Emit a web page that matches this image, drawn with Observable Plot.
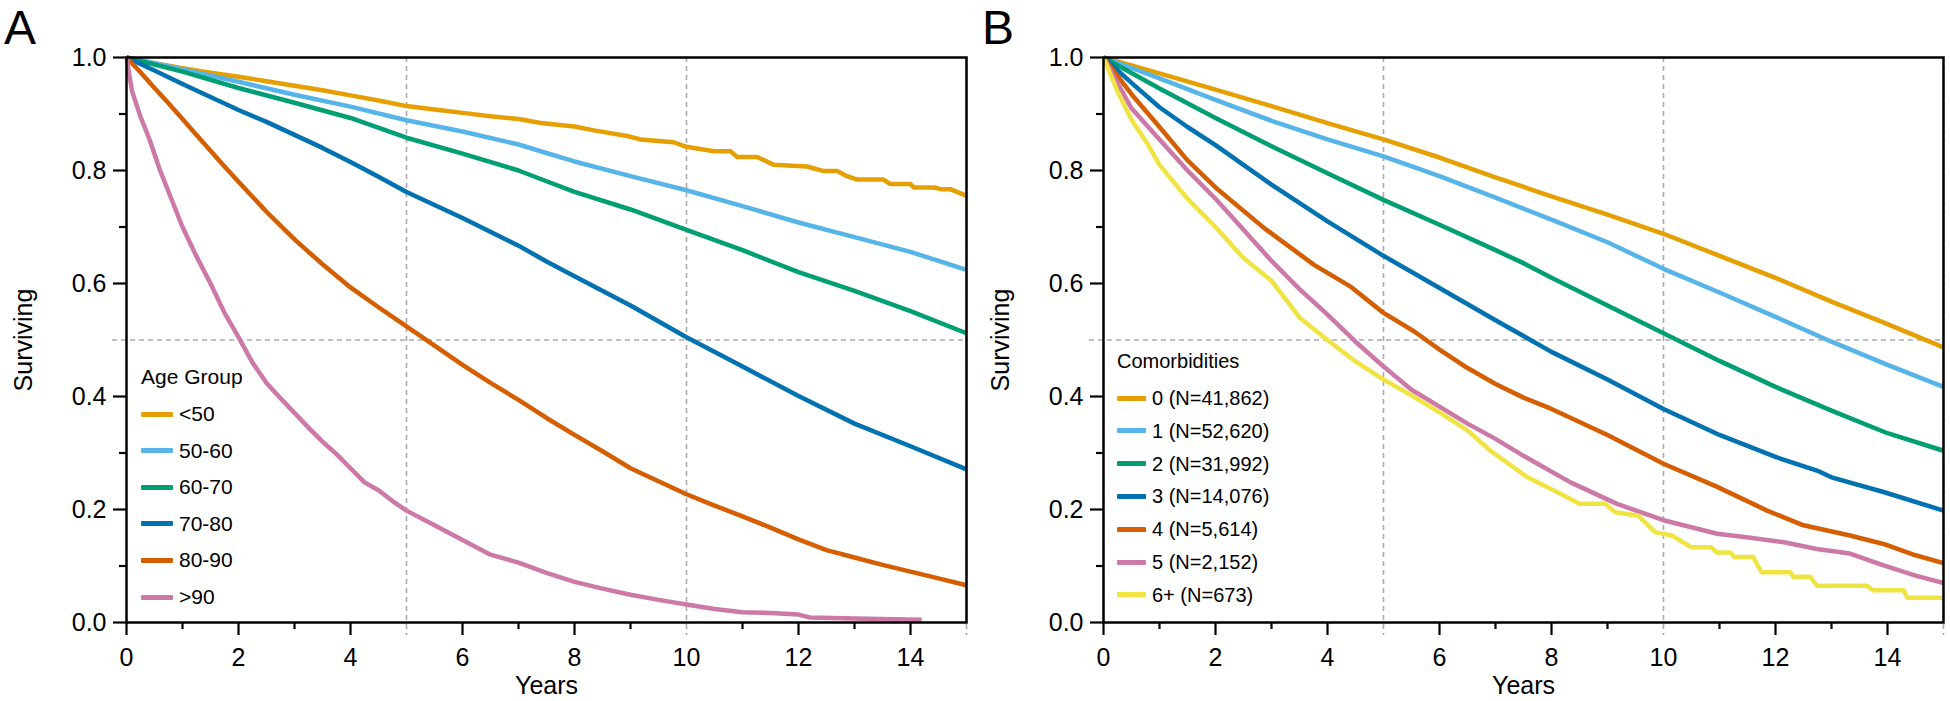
<!DOCTYPE html>
<html>
<head>
<meta charset="utf-8">
<script src="https://cdn.jsdelivr.net/npm/d3@7"></script>
<script src="https://cdn.jsdelivr.net/npm/@observablehq/plot@0.6"></script>
<style>
  html, body { margin: 0; padding: 0; background: #fff; }
  #wrap { position: relative; width: 1950px; height: 701px; font-family: "Liberation Sans", Arial, Helvetica, sans-serif; color: #000; }
  .panel { position: absolute; top: 0; }
  .letter { position: absolute; font-size: 48px; line-height: 48px; }
  .legend { position: absolute; }
  .legend .title { position: absolute; left: 0; white-space: nowrap; }
  .legend .row { position: absolute; left: 0; height: 20px; line-height: 20px; display: flex; align-items: center; white-space: nowrap; }
  .legend .sw { display: inline-block; height: 5px; border-radius: 1px; }
</style>
</head>
<body>
<div id="wrap"></div>
<script>
// ---------------- data ----------------
const colors = ["#E69F00", "#56B4E9", "#009E73", "#0072B2", "#D55E00", "#CC79A7", "#F0E442"];

// Panel A: survival by age group  [years, surviving]
const ageGroups = ["<50", "50-60", "60-70", "70-80", "80-90", ">90"];
const ageLt50 = [[0,1],[0.5,0.99],[1,0.981],[1.5,0.973],[2,0.966],[2.5,0.958],[3,0.95],[3.5,0.942],[4,0.933],[4.5,0.924],[5,0.914],[5.5,0.908],[6,0.902],[6.5,0.896],[7,0.891],[7.4,0.884],[8,0.878],[8.35,0.871],[8.94,0.861],[9.18,0.855],[9.77,0.85],[10,0.842],[10.49,0.834],[10.79,0.834],[10.9,0.824],[11.26,0.824],[11.56,0.81],[12.15,0.807],[12.45,0.799],[12.69,0.799],[12.87,0.79],[13.05,0.784],[13.52,0.784],[13.64,0.776],[14.0,0.776],[14.06,0.77],[14.42,0.77],[14.54,0.767],[14.71,0.767],[15,0.755]];
const age50_60 = [[0,1],[0.5,0.99],[1,0.979],[2,0.957],[3,0.934],[4,0.913],[5,0.889],[6,0.869],[7,0.846],[7.5,0.831],[8,0.816],[9,0.79],[10,0.765],[11,0.737],[12,0.708],[13,0.682],[14,0.656],[15,0.624]];
const age60_70 = [[0,1],[1,0.975],[2,0.946],[3,0.92],[4,0.893],[5,0.858],[6,0.83],[7,0.8],[7.5,0.781],[8,0.762],[9,0.731],[10,0.695],[11,0.659],[12,0.62],[13,0.587],[14,0.551],[15,0.512]];
const age70_80 = [[0,1],[0.5,0.977],[1,0.953],[1.5,0.93],[2,0.907],[2.5,0.886],[3,0.863],[3.5,0.84],[4,0.815],[4.5,0.789],[5,0.762],[6,0.716],[7,0.667],[7.5,0.639],[8,0.613],[9,0.561],[10,0.505],[11,0.453],[12,0.401],[13,0.352],[14,0.312],[15,0.271]];
const age80_90 = [[0,1],[0.25,0.974],[0.5,0.946],[0.75,0.919],[1,0.891],[1.25,0.863],[1.5,0.835],[1.75,0.807],[2,0.78],[2.5,0.727],[3,0.678],[3.5,0.634],[4,0.593],[4.5,0.558],[5,0.524],[5.5,0.49],[6,0.456],[6.5,0.424],[7,0.394],[7.5,0.362],[8,0.332],[8.5,0.303],[9,0.273],[9.5,0.25],[10,0.227],[10.5,0.207],[11,0.188],[11.5,0.168],[12,0.147],[12.5,0.128],[13,0.115],[13.5,0.102],[14,0.09],[14.5,0.078],[15,0.066]];
const ageGt90 = [[0,1],[0.1,0.94],[0.25,0.895],[0.4,0.858],[0.6,0.8],[0.8,0.75],[1,0.7],[1.25,0.648],[1.5,0.6],[1.75,0.548],[2,0.505],[2.25,0.46],[2.5,0.424],[2.75,0.397],[3,0.371],[3.25,0.345],[3.5,0.32],[3.75,0.298],[4,0.273],[4.25,0.248],[4.5,0.234],[4.75,0.215],[5,0.198],[5.5,0.172],[6,0.146],[6.5,0.12],[7,0.106],[7.5,0.088],[8,0.072],[8.5,0.06],[9,0.049],[9.5,0.04],[10,0.032],[10.5,0.024],[11,0.018],[11.5,0.017],[12,0.014],[12.2,0.009],[13,0.007],[14.2,0.005]];
const ageSeries = [ageLt50, age50_60, age60_70, age70_80, age80_90, ageGt90];

// Panel B: survival by number of comorbidities  [years, surviving]
const comorbGroups = ["0 (N=41,862)", "1 (N=52,620)", "2 (N=31,992)", "3 (N=14,076)", "4 (N=5,614)", "5 (N=2,152)", "6+ (N=673)"];
const com0 = [[0,1],[1,0.972],[2,0.943],[3,0.914],[4,0.884],[5,0.855],[6,0.823],[7,0.788],[8,0.754],[9,0.722],[10,0.688],[11,0.649],[12,0.61],[13,0.568],[14,0.528],[15,0.487]];
const com1 = [[0,1],[1,0.963],[2,0.925],[3,0.888],[4,0.855],[5,0.825],[6,0.79],[7,0.752],[8,0.713],[9,0.673],[10,0.626],[11,0.584],[12,0.541],[13,0.497],[14,0.456],[15,0.417]];
const com2 = [[0,1],[1,0.945],[2,0.893],[3,0.843],[4,0.795],[5,0.748],[6,0.704],[7,0.659],[7.5,0.636],[8,0.61],[9,0.561],[10,0.512],[11,0.463],[12,0.417],[13,0.375],[14,0.335],[15,0.304]];
const com3 = [[0,1],[0.5,0.955],[1,0.912],[1.5,0.877],[2,0.845],[3,0.775],[4,0.71],[5,0.649],[6,0.592],[7,0.535],[7.5,0.507],[8,0.479],[9,0.43],[10,0.378],[11,0.332],[12,0.293],[12.74,0.269],[13,0.257],[13.93,0.231],[15,0.198]];
const com4 = [[0,1],[0.5,0.935],[1,0.877],[1.5,0.818],[2,0.77],[2.87,0.698],[3.76,0.633],[4.42,0.594],[5,0.548],[5.55,0.515],[6,0.483],[6.44,0.454],[7,0.422],[7.5,0.398],[8,0.378],[9,0.332],[10,0.281],[10.96,0.24],[11.85,0.198],[12.5,0.172],[13.33,0.154],[13.93,0.139],[14.5,0.119],[15,0.105]];
const com5 = [[0,1],[0.5,0.91],[1,0.855],[1.5,0.8],[2,0.75],[2.5,0.695],[3,0.64],[3.5,0.59],[4,0.545],[4.5,0.497],[5,0.453],[5.5,0.412],[6,0.382],[6.5,0.352],[7,0.325],[7.5,0.295],[8.34,0.248],[9.17,0.21],[10,0.181],[10.96,0.157],[11.55,0.15],[12.15,0.142],[12.74,0.13],[13.33,0.122],[13.93,0.101],[14.5,0.083],[15,0.07]];
const com6 = [[0,1],[0.25,0.94],[0.5,0.89],[0.8,0.845],[1,0.81],[1.5,0.75],[2,0.7],[2.5,0.645],[3,0.605],[3.5,0.54],[4,0.5],[4.5,0.462],[5,0.43],[5.5,0.402],[6,0.372],[6.5,0.34],[6.91,0.304],[7.57,0.257],[8.1,0.231],[8.5,0.21],[8.96,0.21],[9.14,0.195],[9.55,0.189],[9.85,0.16],[10.15,0.154],[10.5,0.133],[10.85,0.133],[10.96,0.124],[11.2,0.124],[11.26,0.116],[11.6,0.116],[11.75,0.089],[12.26,0.089],[12.32,0.081],[12.62,0.081],[12.74,0.065],[13.63,0.065],[13.75,0.057],[14.29,0.057],[14.35,0.044],[15,0.044]];
const comorbSeries = [com0, com1, com2, com3, com4, com5, com6];

// axis ticks
const xLabelTicks = [0, 2, 4, 6, 8, 10, 12, 14];
const xMajorTicks = [0, 2, 4, 6, 8, 12, 14];
const xMinorTicks = [1, 3, 7, 9, 11, 13];
const yLabelTicks = [0, 0.2, 0.4, 0.6, 0.8, 1.0];
const yMinorTicks = [0.1, 0.3, 0.7, 0.9];
const refX = [5, 10, 15];
const refY = [0.5];

// ---------------- drawing ----------------
const FONT = '"Liberation Sans", Arial, Helvetica, sans-serif';

function panel(names, series, width, marginRight) {
  const rows = names.flatMap((n, i) => series[i].map(([t, s]) => ({group: n, t, s})));
  return Plot.plot({
    width, height: 701,
    marginTop: 57, marginBottom: 79, marginLeft: 126, marginRight,
    x: {domain: [0, 15]},
    y: {domain: [0, 1]},
    color: {domain: names, range: colors.slice(0, names.length)},
    style: {fontFamily: FONT, fontSize: "24px", color: "#000", background: "transparent", overflow: "visible"},
    marks: [
      Plot.ruleY(refY, {stroke: "#aaaaaa", strokeWidth: 1.6, strokeDasharray: "5,4", insetLeft: -14}),
      Plot.ruleX(refX, {stroke: "#aaaaaa", strokeWidth: 1.6, strokeDasharray: "5,4", insetBottom: -13}),
      Plot.axisX({ticks: xLabelTicks, tickSize: 0, tickPadding: 26, fontSize: 25, label: "Years", labelAnchor: "center", labelArrow: "none", labelOffset: 71}),
      Plot.axisX({ticks: xMajorTicks, tickSize: 13, strokeWidth: 2.2, text: null, label: null}),
      Plot.axisX({ticks: xMinorTicks, tickSize: 7, strokeWidth: 2.2, text: null, label: null}),
      Plot.axisY({ticks: yLabelTicks, tickSize: 0, tickPadding: 20, fontSize: 25, tickFormat: d3.format(".1f"), label: "Surviving", labelAnchor: "center", labelArrow: "none", labelOffset: 112}),
      Plot.axisY({ticks: yLabelTicks, tickSize: 13, strokeWidth: 2.2, text: null, label: null}),
      Plot.axisY({ticks: yMinorTicks, tickSize: 7, strokeWidth: 2.2, text: null, label: null}),
      Plot.line(rows, {x: "t", y: "s", z: "group", stroke: "group", strokeWidth: 4.5, strokeLinejoin: "round", strokeLinecap: "butt"}),
      Plot.frame({stroke: "#000", strokeWidth: 2.5})
    ]
  });
}

const wrap = document.getElementById("wrap");

function place(el, left) {
  el.classList.add("panel");
  el.style.left = left + "px";
  wrap.appendChild(el);
}
place(panel(ageGroups, ageSeries, 975, 9), 0);
place(panel(comorbGroups, comorbSeries, 973, 7), 977);

// panel letters
for (const [txt, left] of [["A", 4], ["B", 982]]) {
  const d = document.createElement("div");
  d.className = "letter";
  d.textContent = txt;
  d.style.left = left + "px";
  d.style.top = "4px";
  wrap.appendChild(d);
}

// legends (inside plots)
function legend(title, names, cfg) {
  const box = document.createElement("div");
  box.className = "legend";
  box.style.left = cfg.left + "px";
  box.style.top = "0px";
  box.style.fontSize = cfg.fontSize + "px";
  const t = document.createElement("div");
  t.className = "title";
  t.textContent = title;
  t.style.top = cfg.titleTop + "px";
  t.style.lineHeight = "20px";
  box.appendChild(t);
  names.forEach((n, i) => {
    const r = document.createElement("div");
    r.className = "row";
    r.style.top = (cfg.rowTop + i * cfg.step) + "px";
    const sw = document.createElement("span");
    sw.className = "sw";
    sw.style.width = cfg.swatch + "px";
    sw.style.background = colors[i];
    sw.style.marginRight = cfg.gap + "px";
    const lab = document.createElement("span");
    lab.textContent = n;
    r.appendChild(sw);
    r.appendChild(lab);
    box.appendChild(r);
  });
  wrap.appendChild(box);
}
legend("Age Group", ageGroups, {left: 141, fontSize: 21, titleTop: 367, rowTop: 404, step: 36.6, swatch: 32, gap: 6});
legend("Comorbidities", comorbGroups, {left: 1117, fontSize: 20, titleTop: 351, rowTop: 388, step: 32.8, swatch: 29, gap: 6});
</script>
</body>
</html>
